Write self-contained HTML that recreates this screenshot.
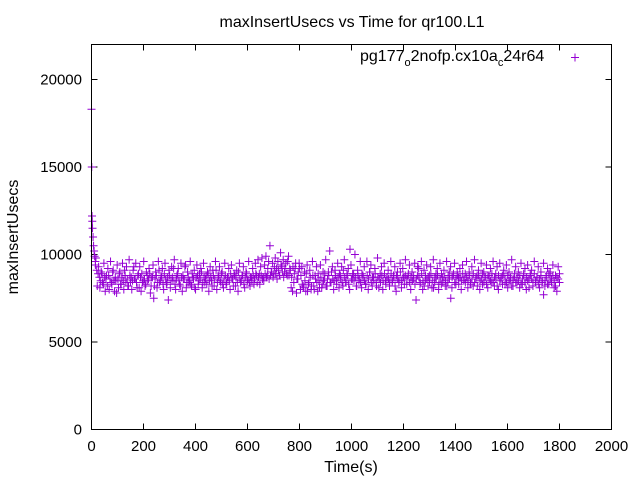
<!DOCTYPE html>
<html><head><meta charset="utf-8"><style>
body{margin:0;background:#fff}
svg{display:block;font-family:"Liberation Sans",sans-serif}
</style></head><body>
<svg id="chart" width="640" height="480" xmlns="http://www.w3.org/2000/svg">
<rect width="640" height="480" fill="#fff"/>
<text x="352" y="27" font-size="16" text-anchor="middle">maxInsertUsecs vs Time for qr100.L1</text>
<g id="axes"></g>
<g id="marks"></g>
<rect x="91.5" y="44.5" width="520" height="385" fill="none" stroke="#000" stroke-width="1"/>
<text transform="translate(18,237) rotate(-90)" font-size="16" text-anchor="middle">maxInsertUsecs</text>
<text x="351" y="472" font-size="16" text-anchor="middle">Time(s)</text>
<g>
<text x="360" y="61" font-size="16">pg177<tspan font-size="11" dy="5">o</tspan><tspan dy="-5">2nofp.cx10a</tspan><tspan font-size="11" dy="5">c</tspan><tspan dy="-5">24r64</tspan></text>
<path d="M571,57.5h8M575,53.5v8" stroke="#9400d3" stroke-width="1"/>
</g>
</svg>
<script>
const xTicks=[0,200,400,600,800,1000,1200,1400,1600,1800,2000];
const yTicks=[0,5000,10000,15000,20000];
const earlyTimes=[0,1,2,3,4,6,8,10,12,15];
const earlyValues=[18300,15000,12200,11900,11500,11000,10500,10200,9900,9600];
const endSeconds=1800;
const values=[
9400,9100,8900,8700,8500,8900,8300,8700,8600,8200,8800,8600,8400,9000,8500,8700,7800,8600,8900,8300,
8700,8500,9100,8400,8600,8200,8800,8700,8500,9300,8600,8400,8800,8100,8700,8900,8500,8600,8300,8800,
8600,8900,8200,8700,7500,8600,8800,8400,9100,8500,8700,8300,8900,8600,8400,7400,8800,8500,8700,9200,
8300,8600,8900,8500,8200,8700,8800,8600,9400,8400,8700,8500,8300,8900,8600,8100,8700,8800,8500,8600,
9000,8400,8700,8600,8300,8900,8500,8700,8200,8800,8600,9100,8400,8700,8500,8900,8300,8600,8800,8400,
8700,8500,8900,8600,8200,8800,8700,8400,9000,8600,8500,8800,8300,8700,8900,8600,8400,8700,8500,8800,
8600,8900,8400,8700,8300,8800,8600,8500,8900,8700,9200,8600,8800,9000,8700,9300,8900,8600,9100,8800,
9400,9000,8700,9200,8900,9600,8800,9100,8700,9300,8900,9500,8600,9000,9200,8800,8300,8100,8500,8900,
7900,8400,8700,8200,8800,8000,8600,8400,8900,8100,8700,8300,8500,8900,8200,8600,8800,8400,9000,8600,
8500,8800,8300,8700,8900,8600,8400,9100,8700,8500,8800,8300,10300,8600,8900,8500,8700,8200,8800,8600,
8400,8900,8700,8500,8300,8800,8600,9000,8400,8700,8500,8900,8200,8700,8600,8400,8800,8500,8900,8300,
8700,8600,8400,8900,8500,8700,8200,8800,8600,8400,9000,8500,8700,8300,8800,8600,8900,8400,8700,8500,
8800,8300,8600,9300,8700,8400,8900,8500,8200,8800,8600,8700,8400,8900,8500,8100,8700,8600,8800,8300,
8600,8900,8400,8700,8500,8200,8800,8600,7500,8700,8900,8400,8600,8800,8300,8700,8500,8900,8600,8400,
8700,8500,8800,8300,8600,8900,8400,8700,8200,8800,8500,8600,8900,8400,8700,8300,8800,8600,8500,8900,
8400,8700,8600,8200,8800,8500,8700,8300,8900,8600,8400,8800,8500,8700,8200,8600,8900,8400,8700,8500,
8800,8300,8600,8900,8400,8700,8500,8100,8800,8600,8400,8900,8500,8700,8300,8600,8800,8400,7700,8500,
8700,8300,8900,8600,8400,8800,8500,8200,8700,8600,8900
];
const values2=[
9800,8200,9300,8100,9000,8400,9500,7900,8800,9200,8000,9600,8300,9100,7900,8500,9400,8100,9000,8300,
9500,8000,8800,9300,8200,9700,8400,8000,9100,8600,9500,8100,8900,9300,7900,8400,9600,8200,9000,8500,
9200,7800,8700,9400,8200,9000,8100,9600,8400,8800,9200,8000,9500,8300,8700,9100,8100,9300,8500,9700,
8000,8800,9200,8300,9500,7900,8600,9300,8100,9000,8400,9600,8200,8700,9100,8000,9400,8300,8900,9200,
8100,9500,8400,8800,9000,7900,9300,8500,9100,8200,9600,8000,8800,9300,8400,9000,8100,9500,8300,8700,
9200,8000,9400,8600,8900,8200,9100,7900,9500,8400,8800,9300,8100,9000,8500,9600,8200,8700,9200,8300,
9500,8800,9700,8900,9300,9800,8700,9400,9900,8800,9600,10500,9000,9500,8900,9800,9200,9600,8800,10100,
9300,9700,9000,9500,8800,9900,9200,8100,7900,8400,9200,7800,8600,9500,8000,9300,8200,9000,7900,9400,
8300,9100,8000,9600,8200,8800,9300,7900,8500,9400,8100,9000,8600,9700,8200,9000,10200,8400,9300,8000,
9100,8500,9500,8100,8800,9300,8200,9700,8400,8900,9200,8000,9400,8600,8900,10000,8200,9100,8500,9600,
8100,8800,9300,8300,9600,8000,9000,9400,8200,8700,9200,8400,9800,8100,8900,9300,8000,9500,8500,8700,
9100,8200,9600,8400,8800,9300,7900,9000,8500,9500,8100,9200,8700,9700,8300,8800,9400,8000,9000,8600,
9500,7400,8800,9200,8300,9600,8000,9100,8500,9400,8200,8800,9300,8100,9700,8400,8900,9200,8000,9500,
8300,8700,9100,8200,9600,8400,9000,9300,8100,8800,9500,8300,9000,8700,9200,8000,9400,8500,8900,9600,
8100,9000,8400,9300,8200,9700,8600,8800,9100,8000,9500,8300,9000,8700,9400,8100,8800,9200,8400,9600,
8200,8900,9300,8000,9500,8600,8800,9100,8300,9400,8100,9000,8500,9700,8200,8700,9300,8400,9000,8100,
9500,8300,8800,9200,8000,9400,8600,8900,9100,8200,9600,8400,8700,9300,8100,9000,8500,9500,8200,8800,
9200,8300,9000,8600,9400,8100,8800,7900,9300,8400
];
const NS="http://www.w3.org/2000/svg";
const X0=91.5,X1=611.5,Y0=429.5,Y1=44.5,XMAX=2000,YMAX=22000;
function xs(v){return X0+(v/XMAX)*(X1-X0);}
function ys(v){return Y0-(v/YMAX)*(Y0-Y1);}
const axes=document.getElementById('axes');
const marks=document.getElementById('marks');
xTicks.forEach(t=>{
  const x=xs(t);
  const p=document.createElementNS(NS,'path');
  p.setAttribute('d',`M${x},${Y0}v-6M${x},${Y1}v6`);
  p.setAttribute('stroke','#000');
  
  
  axes.appendChild(p);
  const tx=document.createElementNS(NS,'text');
  tx.setAttribute('x',x);tx.setAttribute('y',451);
  tx.setAttribute('font-size','15');tx.setAttribute('text-anchor','middle');
  
  
  tx.textContent=t;axes.appendChild(tx);
});
yTicks.forEach(t=>{
  const y=ys(t);
  const p=document.createElementNS(NS,'path');
  p.setAttribute('d',`M${X0},${y}h6M${X1},${y}h-6`);
  p.setAttribute('stroke','#000');
  
  
  axes.appendChild(p);
  const tx=document.createElementNS(NS,'text');
  tx.setAttribute('x',82);tx.setAttribute('y',y+5);
  tx.setAttribute('font-size','15');tx.setAttribute('text-anchor','end');
  
  
  tx.textContent=t;axes.appendChild(tx);
});
function plus(t,v){
  const x=xs(t),y=ys(v);
  const p=document.createElementNS(NS,'path');
  p.setAttribute('d',`M${x-4},${y}h8M${x},${y-4}v8`);
  p.setAttribute('stroke','#9400d3');
  p.setAttribute('stroke-width','1');
  
  
  marks.appendChild(p);
}
earlyTimes.forEach((t,i)=>plus(t,earlyValues[i]));
values.forEach((v,i)=>plus(15+i*(endSeconds-15)/(values.length-1),v));
values2.forEach((v,i)=>plus(17+i*(endSeconds-17)/(values2.length-1),v));
</script>
</body></html>
